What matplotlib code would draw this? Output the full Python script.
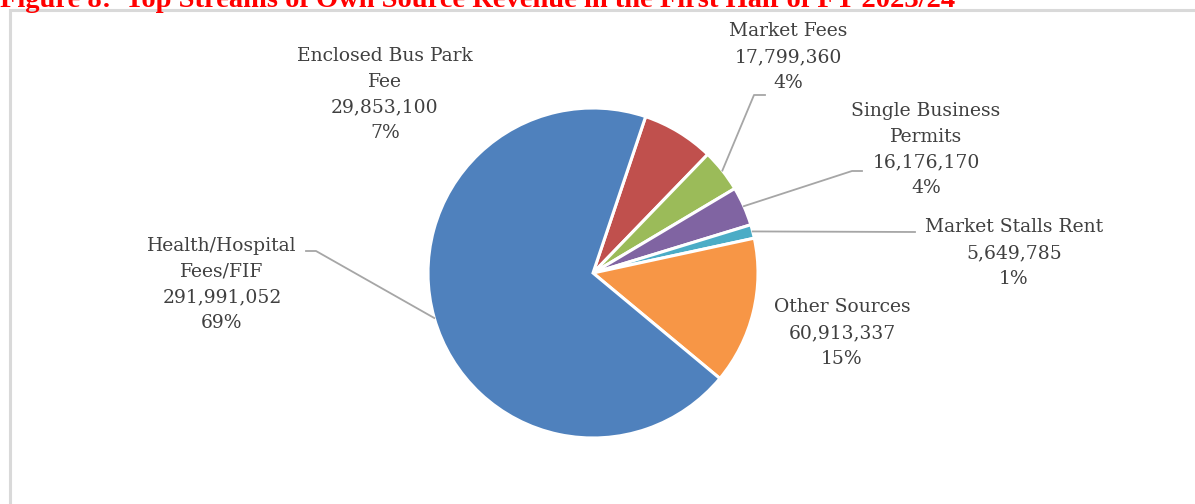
import numpy as np
import matplotlib
matplotlib.use("Agg")
import matplotlib.pyplot as plt
from matplotlib.patches import Rectangle

# Fuentes de ingreso propio (primer semestre FY 2023/24), en orden horario
categorias = ["Enclosed Bus Park\nFee", "Market Fees", "Single Business\nPermits",
              "Market Stalls Rent", "Other Sources", "Health/Hospital\nFees/FIF"]
valores = [29853100, 17799360, 16176170, 5649785, 60913337, 291991052]
porcentajes = ["7%", "4%", "4%", "1%", "15%", "69%"]
colores = ["#C0504D", "#9BBB59", "#8064A2", "#4BACC6", "#F79646", "#4F81BD"]

titulo = "Figure 8:  Top Streams of Own Source Revenue in the First Half of FY 2023/24"

W, H = 1195, 504
fig = plt.figure(figsize=(W / 100, H / 100), dpi=100)
ax = fig.add_axes([0, 0, 1, 1])

centro = (593, H - 273)
radio = 165
inicio = 90 - 18.6  # el primer sector arranca un poco a la derecha de las 12

cunas, _ = ax.pie(valores, colors=colores, startangle=inicio, counterclock=False,
                  center=centro, radius=radio, frame=True,
                  wedgeprops=dict(edgecolor="white", linewidth=2.2))
ax.set_xlim(0, W)
ax.set_ylim(0, H)
ax.set_aspect("equal")
ax.axis("off")

# marco gris del área del gráfico (sigue más allá del borde derecho e inferior)
ax.add_patch(Rectangle((10, -10), W + 20, H - 10 + 10, fill=False,
                       edgecolor="#d9d9d9", linewidth=2.2, clip_on=False))

# posición de cada etiqueta (centro del bloque de texto) y codo de la guía
pos_etiquetas = [(385, 94.5), (788, 57), (926, 149.5), (1014, 253), (842, 333), (222, 284.5)]
codos = [None, (754, 95, 765), (852, 171, 862), (915, 232, 915), None, (316, 251, 306)]

gris = "#404040"
for i, cuna in enumerate(cunas):
    x, y = pos_etiquetas[i]
    texto = f"{categorias[i]}\n{valores[i]:,}\n{porcentajes[i]}"
    ax.text(x, H - y, texto, ha="center", va="center", fontsize=13.5,
            family="DejaVu Serif", color=gris, linespacing=1.57)
    if codos[i] is not None:
        ang = np.deg2rad((cuna.theta1 + cuna.theta2) / 2)
        x0 = centro[0] + radio * np.cos(ang)
        y0 = centro[1] + radio * np.sin(ang)
        cx, cy, ex = codos[i]
        ax.plot([x0, cx, ex], [y0, H - cy, H - cy], color="#a6a6a6", lw=1.3)

# título rojo, recortado en el borde superior
ax.text(0, H - 7, titulo, ha="left", va="baseline", fontsize=20.5,
        family="Liberation Serif", weight="bold", color="#ff0000")

fig.savefig("out.png", dpi=100)
